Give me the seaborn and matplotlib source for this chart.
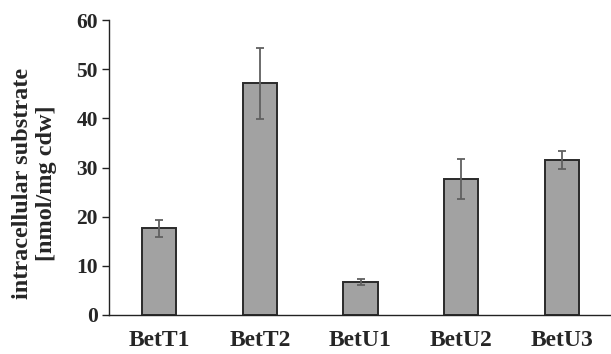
import matplotlib
matplotlib.use("Agg")
import matplotlib.pyplot as plt
import seaborn as sns
import numpy as np
import pandas as pd
from matplotlib.ticker import FixedLocator

categories = ["BetT1", "BetT2", "BetU1", "BetU2", "BetU3"]
values = [17.6, 47.1, 6.7, 27.7, 31.5]
errors = [1.8, 7.2, 0.65, 4.05, 1.85]
yticks = [0, 10, 20, 30, 40, 50, 60]

sns.set_style("white")
plt.rcParams['font.family'] = ['Liberation Serif', 'DejaVu Serif']
plt.rcParams['font.weight'] = 'bold'

df = pd.DataFrame({"cat": categories, "val": values, "err": errors})

fig = plt.figure(figsize=(6.11, 3.54), dpi=100)
ax = fig.add_axes([109/611, 39/354, 503/611, 295/354])

sns.barplot(data=df, x="cat", y="val", ax=ax, color="#a2a2a2", width=0.34,
            edgecolor="#2a2a2a", linewidth=1.4, saturation=1, errorbar=None)
ax.errorbar(range(len(categories)), values, yerr=errors, fmt="none",
            ecolor="#606060", elinewidth=1.3, capsize=3, capthick=1.3, zorder=5)

ax.set_xlim(-0.5, len(categories) - 0.5)
ax.set_ylim(0, 60)
ax.set_yticks(yticks)
ax.set_yticklabels([str(t) for t in yticks], fontsize=15.5, fontweight='bold')
ax.set_xticks(range(len(categories)))
ax.set_xticklabels(categories, fontsize=17, fontweight='bold')
ax.xaxis.set_minor_locator(FixedLocator(np.arange(-0.5, len(categories) + 0.5, 1.0)))
ax.tick_params(axis='x', which='major', length=0, pad=11)
ax.tick_params(axis='x', which='minor', length=5, width=1, direction='out', color='#222222')
ax.tick_params(axis='y', which='major', length=5, width=1, direction='out', color='#222222', pad=3, left=True)
ax.set_xlabel("")
ax.set_ylabel("intracellular substrate\n[nmol/mg cdw]", fontsize=17.5, fontweight='bold', linespacing=1.2)
ax.yaxis.set_label_coords(-0.103, 0.447)

for s in ["top", "right"]:
    ax.spines[s].set_visible(False)
for s in ["left", "bottom"]:
    ax.spines[s].set_color("#222222")
    ax.spines[s].set_linewidth(1.0)

fig.savefig("out.png", dpi=100)
